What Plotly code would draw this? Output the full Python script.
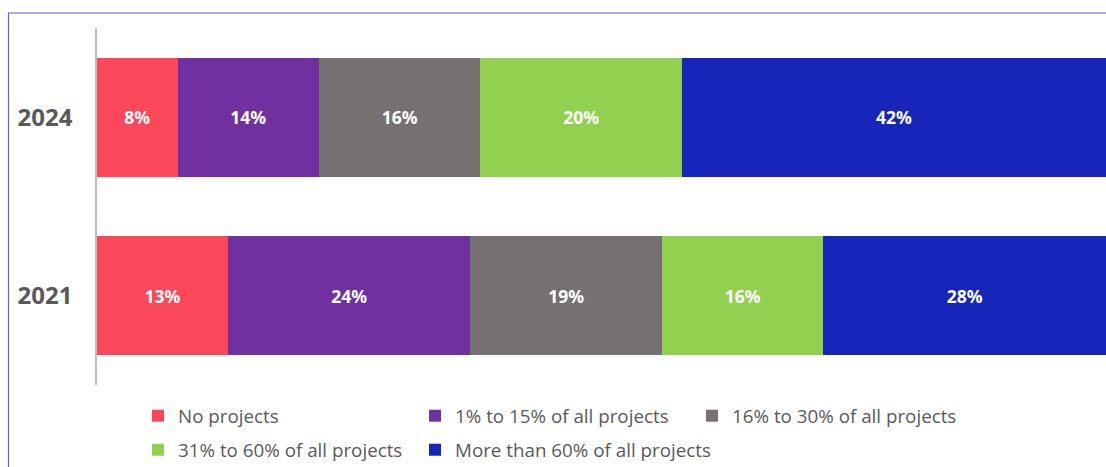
import plotly.graph_objects as go

years = ["2021", "2024"]
categories = [
    "No projects",
    "1% to 15% of all projects",
    "16% to 30% of all projects",
    "31% to 60% of all projects",
    "More than 60% of all projects",
]
# share of respondents per category, ordered as `years`
values = {
    "No projects": [13, 8],
    "1% to 15% of all projects": [24, 14],
    "16% to 30% of all projects": [19, 16],
    "31% to 60% of all projects": [16, 20],
    "More than 60% of all projects": [28, 42],
}
colors = ["#FA4759", "#7030A0", "#767171", "#92D050", "#1725B8"]
legend_of = ["legend", "legend", "legend", "legend2", "legend3"]

W, H = 1106, 467
L, T, PW, PH = 97, 28, 1009, 357

fig = go.Figure()
for cat, col, lg in zip(categories, colors, legend_of):
    fig.add_trace(go.Bar(
        y=years, x=values[cat], name=cat, orientation="h",
        marker=dict(color=col, line=dict(width=0)),
        text=values[cat], texttemplate="%{x}%",
        textposition="inside", insidetextanchor="middle", textangle=0,
        constraintext="none",
        textfont=dict(family="Noto Sans", size=17.5, color="white", weight="bold"),
        legend=lg,
    ))

legend_common = dict(
    orientation="h", xref="container", yref="container",
    xanchor="left", yanchor="middle", traceorder="normal",
    font=dict(family="Open Sans", size=18.8, color="#595959"),
    bgcolor="rgba(0,0,0,0)", borderwidth=0, itemclick=False, itemdoubleclick=False,
)

fig.update_layout(
    width=W, height=H, autosize=False,
    margin=dict(l=L, r=W - L - PW, t=T, b=H - T - PH, pad=0),
    paper_bgcolor="white", plot_bgcolor="white",
    barmode="stack", bargap=1 / 3,
    showlegend=True,
    # first legend row: three fixed-width columns
    legend=dict(**legend_common, entrywidth=232, entrywidthmode="pixels",
                x=138 / W, y=1 - 416 / H),
    # second legend row, one column each
    legend2=dict(**legend_common, x=138 / W, y=1 - 450 / H),
    legend3=dict(**legend_common, x=415 / W, y=1 - 450 / H),
    xaxis=dict(range=[0, 100], visible=False, fixedrange=True),
    yaxis=dict(
        showline=True, linecolor="#BFBFBF", linewidth=1.5,
        showgrid=False, zeroline=False, ticks="",
        ticklabelstandoff=18,
        tickfont=dict(family="Open Sans", size=24, color="#595959", weight="bold"),
        range=[-0.5, 1.5],
    ),
    shapes=[dict(
        type="rect", xref="paper", yref="paper",
        x0=(8.5 - L) / PW, x1=1.2,
        y0=-0.5, y1=(T + PH - 13) / PH,
        line=dict(color="#5F5FE0", width=1.2), fillcolor="rgba(0,0,0,0)",
        layer="below",
    )],
)

fig.write_html("out.html")
